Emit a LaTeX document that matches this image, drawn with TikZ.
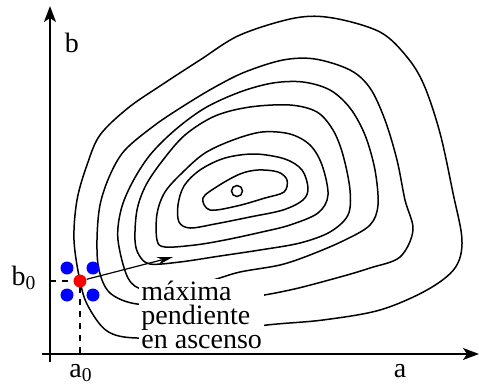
\documentclass[tikz,border=0pt]{standalone}
\usepackage{fontspec}
\setmainfont{Liberation Serif}
\usetikzlibrary{arrows.meta}
\tikzset{
  curva/.style={line width=0.75pt, smooth cycle, tension=0.55},
  eje/.style={line width=0.9pt, -{Stealth[length=8pt,width=6pt,inset=2pt]}},
  punto/.style={circle, inner sep=0pt, minimum size=6.5pt, fill=#1},
  rotulo/.style={font=\fontsize{14pt}{12pt}\selectfont, inner sep=1pt},
  texto/.style={rotulo, fill=white, align=left, anchor=base west, inner sep=1pt}
}
\begin{document}
\begin{tikzpicture}[x=0.5pt,y=-0.5pt]
\useasboundingbox (0,0) rectangle (479,387);
% ---- CURVAS DE NIVEL ----
\draw[line width=0.75pt] (237,191) circle[radius=2.75pt];
\draw[curva] plot coordinates {(203,198) (210,210) (237,206) (265,198) (284,192) (287,180) (278,172) (258,170) (240,174) (218,186)};
\draw[curva] plot coordinates {(179,222) (178,205) (184,186) (200,170) (225,158) (255,154) (285,159) (302,170) (308,188) (303,200) (283,210) (250,217) (215,224) (190,228)};
\draw[curva] plot coordinates {(157,240) (157,214) (165,192) (183,172) (205,153) (233,140) (262,132) (290,134) (310,145) (322,165) (328,195) (318,213) (290,225) (262,232) (225,240) (195,245) (165,247)};
\draw[curva] plot coordinates {(135,240) (137,210) (146,185) (163,160) (185,135) (215,116) (250,107) (290,105) (317,112) (333,130) (343,155) (350,190) (348,215) (330,232) (300,243) (260,250) (220,256) (180,262) (150,264) (139,255)};
\draw[curva] plot coordinates {(118,240) (121,210) (132,183) (150,155) (175,130) (205,108) (240,92) (273,83) (303,82) (330,90) (350,108) (365,135) (375,170) (378,205) (370,225) (345,240) (310,255) (280,265) (240,272) (213,280) (180,288) (145,290) (128,278)};
\draw[curva] plot coordinates {(97,240) (100,205) (110,175) (125,150) (155,125) (185,105) (215,87) (245,72) (283,60) (315,59) (350,70) (370,88) (385,120) (397,160) (405,200) (413,230) (400,257) (370,268) (340,277) (290,290) (243,298) (180,302) (137,304) (110,293) (99,270)};
\draw[curva] plot coordinates {(74,240) (77,200) (87,165) (100,135) (128,108) (160,86) (200,60) (240,35) (295,18) (333,18) (380,32) (407,57) (424,85) (440,133) (453,193) (462,240) (455,268) (427,290) (380,310) (323,320) (267,325) (200,334) (137,338) (107,331) (88,306) (80,281)};
% ---- TEXTO ----
\node[texto] (leyenda) at (139,348) {máxima\\pendiente\\en ascenso};
% ---- EJES ----
\coordinate (ybajo) at (50,362);
\coordinate (ytope) at (50,6);
\coordinate (xbajo) at (42,354);
\coordinate (xtope) at (479,354);
\draw[eje] (ybajo) -- (ytope);
\draw[eje] (xbajo) -- (xtope);
\node[rotulo] (lb) at (72,43) {b};
\node[rotulo] (la) at (400,371) {a};
\node[rotulo] (lb0) at (24,278) {b\textsubscript{0}};
\node[rotulo] (la0) at (81,373) {a\textsubscript{0}};
% ---- PUNTO INICIAL ----
\coordinate (b0) at (50,281);
\coordinate (a0) at (80,354);
\coordinate (dir) at (173,257);
\draw[dashed, line width=0.6pt] (b0) -- (80,281) -- (a0);
\foreach \dx/\dy [count=\i] in {-13/-13,13/-13,-13/14,13/14}
  \node[punto=blue] (q\i) at (80+\dx,281+\dy) {};
\node[punto=red] (p0) at (80,281) {};
\draw[line width=0.6pt, -{Stealth[length=8pt,width=4pt]}] (p0) -- (dir);
\end{tikzpicture}
\end{document}
